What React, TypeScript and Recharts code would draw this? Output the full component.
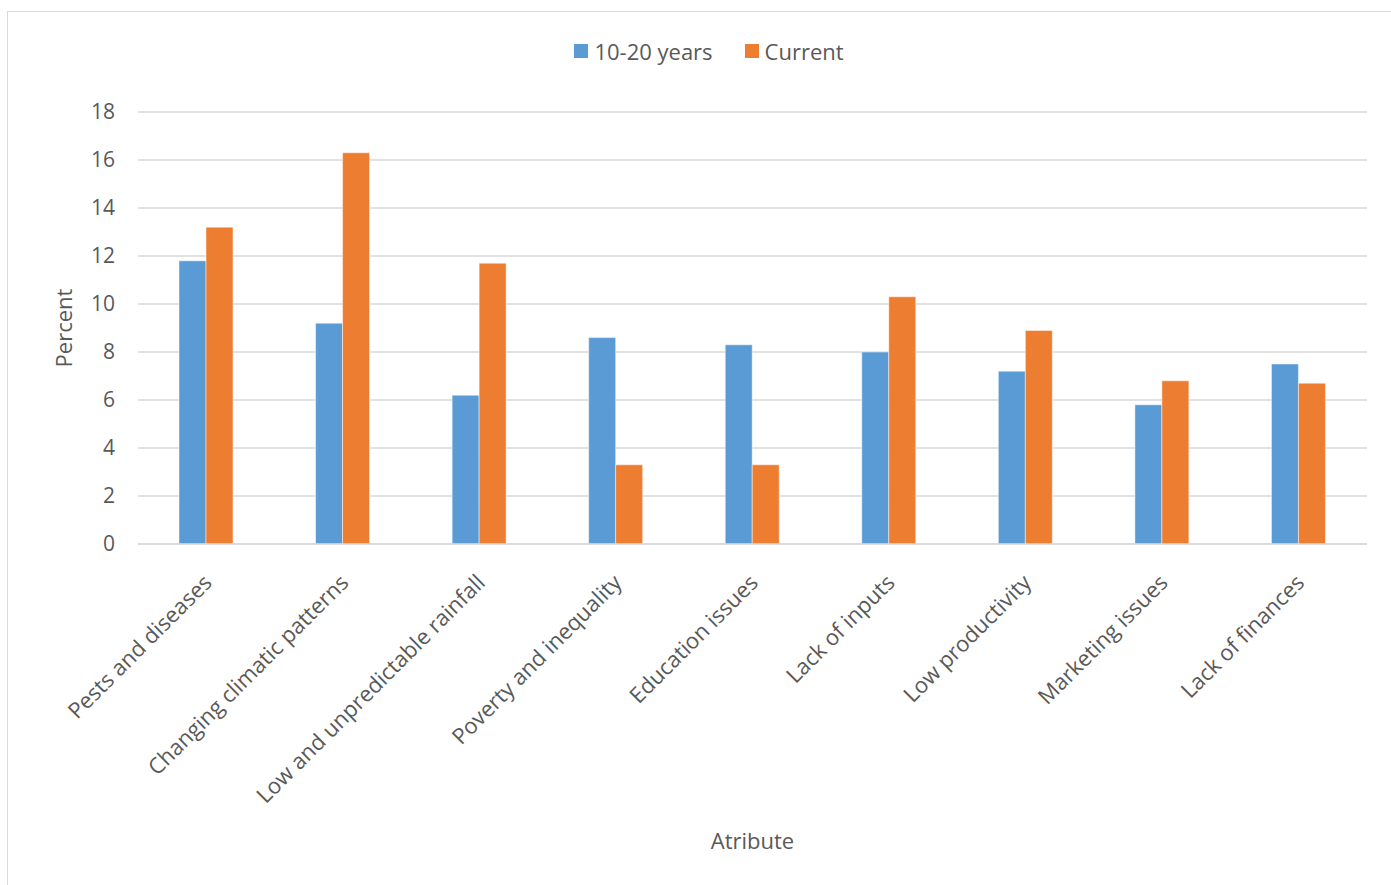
import React from "react";
import {
  BarChart,
  Bar,
  XAxis,
  YAxis,
  CartesianGrid,
  Legend,
} from "recharts";

// constraint categories, share of respondents (%)
const categories = [
  "Pests and diseases",
  "Changing climatic patterns",
  "Low and unpredictable rainfall",
  "Poverty and inequality",
  "Education issues",
  "Lack of inputs",
  "Low productivity",
  "Marketing issues",
  "Lack of finances",
];
const pastValues = [11.8, 9.2, 6.2, 8.6, 8.3, 8.0, 7.2, 5.8, 7.5];
const currentValues = [13.2, 16.3, 11.7, 3.3, 3.3, 10.3, 8.9, 6.8, 6.7];
const yTicks = [0, 2, 4, 6, 8, 10, 12, 14, 16, 18];

const seriesNames = { past: "10-20 years", current: "Current" };

const BLUE = "#5b9bd5";
const ORANGE = "#ed7d31";
const TEXT = "#595959";
const GRID = "#d9d9d9";
const FONT = "'Open Sans', 'Noto Sans', sans-serif";

const rows = categories.map((name, i) => ({
  name,
  past: pastValues[i],
  current: currentValues[i],
}));

const CategoryTick = (props: any) => {
  const { x, y, payload } = props;
  return (
    <g transform={`translate(${x + 7},${y + 40})`}>
      <text
        transform="rotate(-45)"
        textAnchor="end"
        fill={TEXT}
        fontSize={22}
        fontFamily={FONT}
      >
        {payload.value}
      </text>
    </g>
  );
};

const LegendRow = () => (
  <div
    style={{
      display: "flex",
      justifyContent: "center",
      alignItems: "center",
      fontFamily: FONT,
      fontSize: 22,
      color: TEXT,
    }}
  >
    {[
      { label: seriesNames.past, color: BLUE },
      { label: seriesNames.current, color: ORANGE },
    ].map((item, i) => (
      <div
        key={item.label}
        style={{ display: "flex", alignItems: "center", marginLeft: i ? 32 : 0 }}
      >
        <span
          style={{
            width: 14,
            height: 14,
            background: item.color,
            marginRight: 6,
            display: "inline-block",
          }}
        />
        <span>{item.label}</span>
      </div>
    ))}
  </div>
);

export default function App() {
  return (
    <div
      style={{
        position: "fixed",
        left: 0,
        top: 0,
        width: 1391,
        height: 885,
        overflow: "hidden",
        background: "#fff",
      }}
    >
      <div
        style={{
          position: "absolute",
          left: 7,
          top: 11,
          width: 1402,
          height: 900,
          border: `1px solid ${GRID}`,
          background: "#fff",
        }}
      >
        <BarChart
          width={1402}
          height={900}
          data={rows}
          margin={{ top: 70, right: 43, left: 0, bottom: 48 }}
          barGap={0}
          barSize={27}
        >
          <CartesianGrid vertical={false} stroke={GRID} strokeWidth={1.5} />
          <XAxis
            dataKey="name"
            interval={0}
            height={320}
            tickLine={false}
            tickSize={0}
            tickMargin={0}
            axisLine={{ stroke: GRID, strokeWidth: 1.5 }}
            tick={<CategoryTick />}
            label={{
              value: "Atribute",
              position: "insideBottom",
              offset: 15,
              fill: TEXT,
              fontSize: 22,
              fontFamily: FONT,
            }}
          />
          <YAxis
            width={130}
            domain={[0, 18]}
            ticks={yTicks}
            axisLine={false}
            tickLine={false}
            tickMargin={17}
            tick={{ fill: TEXT, fontSize: 21, fontFamily: FONT }}
            label={{
              value: "Percent",
              angle: -90,
              position: "center",
              dx: -9,
              fill: TEXT,
              fontSize: 22,
              fontFamily: FONT,
            }}
          />
          <Legend
            verticalAlign="top"
            content={<LegendRow />}
            wrapperStyle={{ top: 24, left: 0, width: 1402 }}
          />
          <Bar
            dataKey="past"
            name={seriesNames.past}
            fill={BLUE}
            stroke="#fff"
            strokeOpacity={0.6}
            strokeWidth={0.8}
            isAnimationActive={false}
          />
          <Bar
            dataKey="current"
            name={seriesNames.current}
            fill={ORANGE}
            stroke="#fff"
            strokeOpacity={0.6}
            strokeWidth={0.8}
            isAnimationActive={false}
          />
        </BarChart>
      </div>
    </div>
  );
}
